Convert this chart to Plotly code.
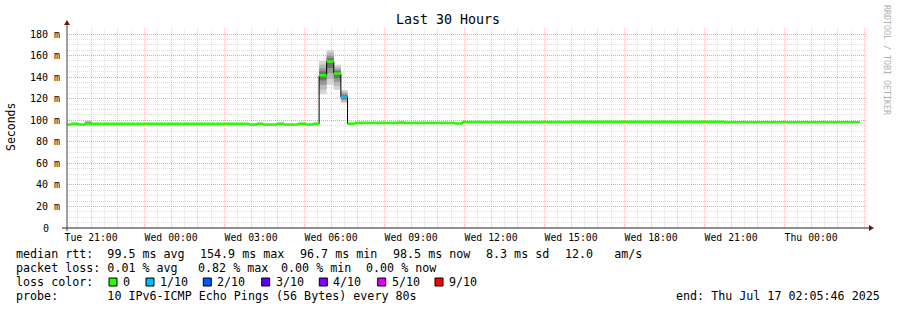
import plotly.graph_objects as go

# ---------------- data ----------------
seg_start = [
    "2025-07-15 20:06", "2025-07-15 20:15", "2025-07-15 20:30", "2025-07-15 20:46",
    "2025-07-15 21:01", "2025-07-16 02:55", "2025-07-16 03:13", "2025-07-16 03:27",
    "2025-07-16 03:58", "2025-07-16 04:14", "2025-07-16 04:46", "2025-07-16 05:03",
    "2025-07-16 05:20", "2025-07-16 05:33", "2025-07-16 05:50", "2025-07-16 06:06",
    "2025-07-16 06:22", "2025-07-16 06:37", "2025-07-16 06:54", "2025-07-16 08:30",
    "2025-07-16 08:46", "2025-07-16 10:39", "2025-07-16 10:55", "2025-07-16 14:57",
    "2025-07-16 20:46",
]
last_sample_end = "2025-07-17 01:50"
median_ms = [96.0, 96.8, 96.0, 96.8, 96.8, 96.0, 96.8, 96.0, 96.8, 96.0, 96.8, 96.0,
             96.8, 141.7, 154.5, 143.3, 121.8, 96.8, 97.6, 97.6, 97.6, 97.0, 98.4, 98.6, 98.1]
loss_tenths = [0, 0, 0, 0, 0, 0, 0, 0, 0, 0, 0, 0, 0, 0, 0, 0, 1, 0, 0, 0, 0, 0, 0, 0, 0]
smoke_lo_ms = [96.0, 96.8, 96.0, 96.8, 96.8, 96.0, 96.8, 96.0, 96.8, 96.0, 96.8, 96.0,
               96.8, 124.1, 133.0, 128.0, 115.7, 96.8, 97.6, 97.6, 97.6, 97.0, 98.4, 98.6, 98.1]
smoke_hi_ms = [96.0, 96.8, 96.0, 100.0, 96.8, 96.0, 96.8, 96.0, 96.8, 96.0, 96.8, 96.0,
               96.8, 155.0, 165.5, 151.5, 128.0, 96.8, 97.6, 99.3, 97.6, 97.0, 98.4, 98.6, 98.1]

x_start = "2025-07-15 20:05:46"
x_end = "2025-07-17 02:05:46"

y_tick_vals = [0, 20, 40, 60, 80, 100, 120, 140, 160, 180]
y_tick_text = ["0", "20 m", "40 m", "60 m", "80 m", "100 m", "120 m", "140 m", "160 m", "180 m"]

loss_levels = [0, 1, 2, 3, 4, 5, 9]
loss_labels = ["0", "1/10", "2/10", "3/10", "4/10", "5/10", "9/10"]
loss_colors = ["#26ff00", "#00b8ff", "#0059ff", "#5e00ff", "#7e00ff", "#dd00ff", "#ff0000"]

rtt_avg, rtt_max, rtt_min, rtt_now, rtt_sd, am_s = 99.5, 154.9, 96.7, 98.5, 8.3, 12.0
loss_avg, loss_max, loss_min, loss_now = 0.01, 0.82, 0.00, 0.00
probe_text = "10 IPv6-ICMP Echo Pings (56 Bytes) every 80s"
end_text = "end: Thu Jul 17 02:05:46 2025"
title_text = "Last 30 Hours"

# ---------------- figure ----------------
MONO = "DejaVu Sans Mono"
W, H = 897, 310
L, R, T, B = 67, 30, 28, 82
PW, PH = W - L - R, H - T - B
Y_MAX = 185.6


def px(x):
    return (x - L) / PW


def py(y):
    return (T + PH - y) / PH


seg_end = seg_start[1:] + [last_sample_end]

fig = go.Figure()

# smoke bands (darker towards the median)
band_fracs = [1.0, 0.75, 0.5, 0.28]
band_cols = ["#d4d4d4", "#b8b8b8", "#969696", "#707070"]
for f, c in zip(band_fracs, band_cols):
    xs, ys = [], []
    for t0, t1, m, lo, hi in zip(seg_start, seg_end, median_ms, smoke_lo_ms, smoke_hi_ms):
        if hi - lo <= 0:
            continue
        a = m - (m - lo) * f
        b = m + (hi - m) * f
        xs += [t0, t1, t1, t0, t0, None]
        ys += [a, a, b, b, a, None]
    fig.add_trace(go.Scatter(x=xs, y=ys, mode="lines", fill="toself", fillcolor=c,
                             line=dict(width=0, color=c), hoverinfo="skip", showlegend=False))

# thin black median connector
fig.add_trace(go.Scatter(x=seg_start + [last_sample_end], y=median_ms + [median_ms[-1]],
                         mode="lines", line=dict(color="#000000", width=1, shape="hv"),
                         hoverinfo="skip", showlegend=False))

# loss-coloured median segments
for lvl, col in zip(loss_levels, loss_colors):
    xs, ys = [], []
    for t0, t1, m, ls in zip(seg_start, seg_end, median_ms, loss_tenths):
        if ls == lvl:
            xs += [t0, t1, None]
            ys += [m, m, None]
    if xs:
        fig.add_trace(go.Scatter(x=xs, y=ys, mode="lines", line=dict(color=col, width=2.6),
                                 hoverinfo="skip", showlegend=False))

major_grid = "rgba(255,70,70,0.38)"
minor_grid = "rgba(150,150,150,0.30)"

# labels without a unit (the "0") are drawn separately so they sit in the number slot
axis_text = [t.replace(" ", "\u00a0") if " " in t else "" for t in y_tick_text]

fig.update_layout(
    width=W, height=H,
    margin=dict(l=L, r=R, t=T, b=B),
    paper_bgcolor="white", plot_bgcolor="white",
    showlegend=False,
    font=dict(family=MONO, color="#000000"),
    xaxis=dict(
        type="date", range=[x_start, x_end],
        tick0="2025-07-15 21:00:00", dtick=3600000, ticklabelstep=3,
        tickformat="%a %H:%M", tickfont=dict(family=MONO, size=9.8, color="#000"),
        showgrid=True, gridcolor=major_grid, griddash="1px,1px", gridwidth=1,
        ticks="", showline=False, zeroline=False, ticklabelstandoff=2,
        minor=dict(tick0="2025-07-15 20:30:00", dtick=1800000, showgrid=True,
                   gridcolor=minor_grid, griddash="1px,1px", gridwidth=1, ticks=""),
    ),
    yaxis=dict(
        range=[0, Y_MAX], tickmode="array", tickvals=y_tick_vals, ticktext=axis_text,
        tickfont=dict(family=MONO, size=10, color="#000"),
        showgrid=True, gridcolor=major_grid, griddash="1px,1px", gridwidth=1,
        ticks="", showline=False, zeroline=False, ticklabelstandoff=6,
        minor=dict(tick0=0, dtick=5, showgrid=True, gridcolor=minor_grid,
                   griddash="1px,1px", gridwidth=1, ticks=""),
    ),
)

shapes = []
# axes
shapes.append(dict(type="line", xref="paper", yref="paper", x0=px(62), x1=px(870),
                   y0=py(228), y1=py(228), line=dict(color="#202020", width=1)))
shapes.append(dict(type="line", xref="paper", yref="paper", x0=px(67), x1=px(67),
                   y0=py(231), y1=py(24), line=dict(color="#404040", width=1)))
# arrows
shapes.append(dict(type="path", xref="paper", yref="paper",
                   path=f"M {px(869)} {py(225)} L {px(874)} {py(228)} L {px(869)} {py(231)} Z",
                   fillcolor="#7f1010", line=dict(width=0)))
shapes.append(dict(type="path", xref="paper", yref="paper",
                   path=f"M {px(64)} {py(25)} L {px(67)} {py(20)} L {px(70)} {py(25)} Z",
                   fillcolor="#7f1010", line=dict(width=0)))

annotations = []
LEG = 11.68


def txt(x, y, s, size=LEG, anchor="left", color="#000", angle=0):
    annotations.append(dict(xref="paper", yref="paper", x=px(x), y=py(y),
                            text=s.replace(" ", "\u00a0"), showarrow=False,
                            xanchor=anchor, yanchor="middle", textangle=angle,
                            borderpad=0, borderwidth=0,
                            font=dict(family=MONO, size=size, color=color)))


# unit-less y label(s), placed in the number column via the y data scale
for v, t in zip(y_tick_vals, y_tick_text):
    if " " not in t:
        annotations.append(dict(xref="paper", yref="y", x=px(48.5), y=v, text=t,
                                showarrow=False, xanchor="right", yanchor="middle",
                                borderpad=0, borderwidth=0,
                                font=dict(family=MONO, size=10, color="#000")))

txt(448, 19, title_text, size=13.3, anchor="center")
txt(11, 127, "Seconds", size=11.5, anchor="center", angle=-90)
txt(887, 60, "RRDTOOL / TOBI OETIKER", size=8.3, anchor="center", color="#b0b0b0", angle=90)

# legend line 1 (GPRINT items)
rtt_items = [f"median rtt:  {rtt_avg:.1f} ms avg", f"{rtt_max:.1f} ms max",
             f"{rtt_min:.1f} ms min", f"{rtt_now:.1f} ms now", f"{rtt_sd:.1f} ms sd",
             f"{am_s:.1f}   am/s"]
rtt_x = [16, 199.5, 300, 393, 486, 565]
for x, s in zip(rtt_x, rtt_items):
    txt(x, 254, s)

loss_items = [f"packet loss: {loss_avg:.2f} % avg", f"{loss_max:.2f} % max",
              f"{loss_min:.2f} % min", f"{loss_now:.2f} % now"]
loss_x = [16, 198, 281, 365.5]
for x, s in zip(loss_x, loss_items):
    txt(x, 268, s)

txt(16, 282, "loss color:")
txt(16, 296, "probe:       " + probe_text)
txt(880, 296, end_text, anchor="right")

box_x = [109, 146, 203.3, 261.7, 319.3, 377.7, 435]
for bx, lab, col in zip(box_x, loss_labels, loss_colors):
    shapes.append(dict(type="rect", xref="paper", yref="paper",
                       x0=px(bx), x1=px(bx + 8), y0=py(286), y1=py(278),
                       fillcolor=col, line=dict(color="#000", width=1)))
    txt(bx + 14, 282, lab)

fig.update_layout(shapes=shapes, annotations=annotations)
fig.write_html("out.html")
